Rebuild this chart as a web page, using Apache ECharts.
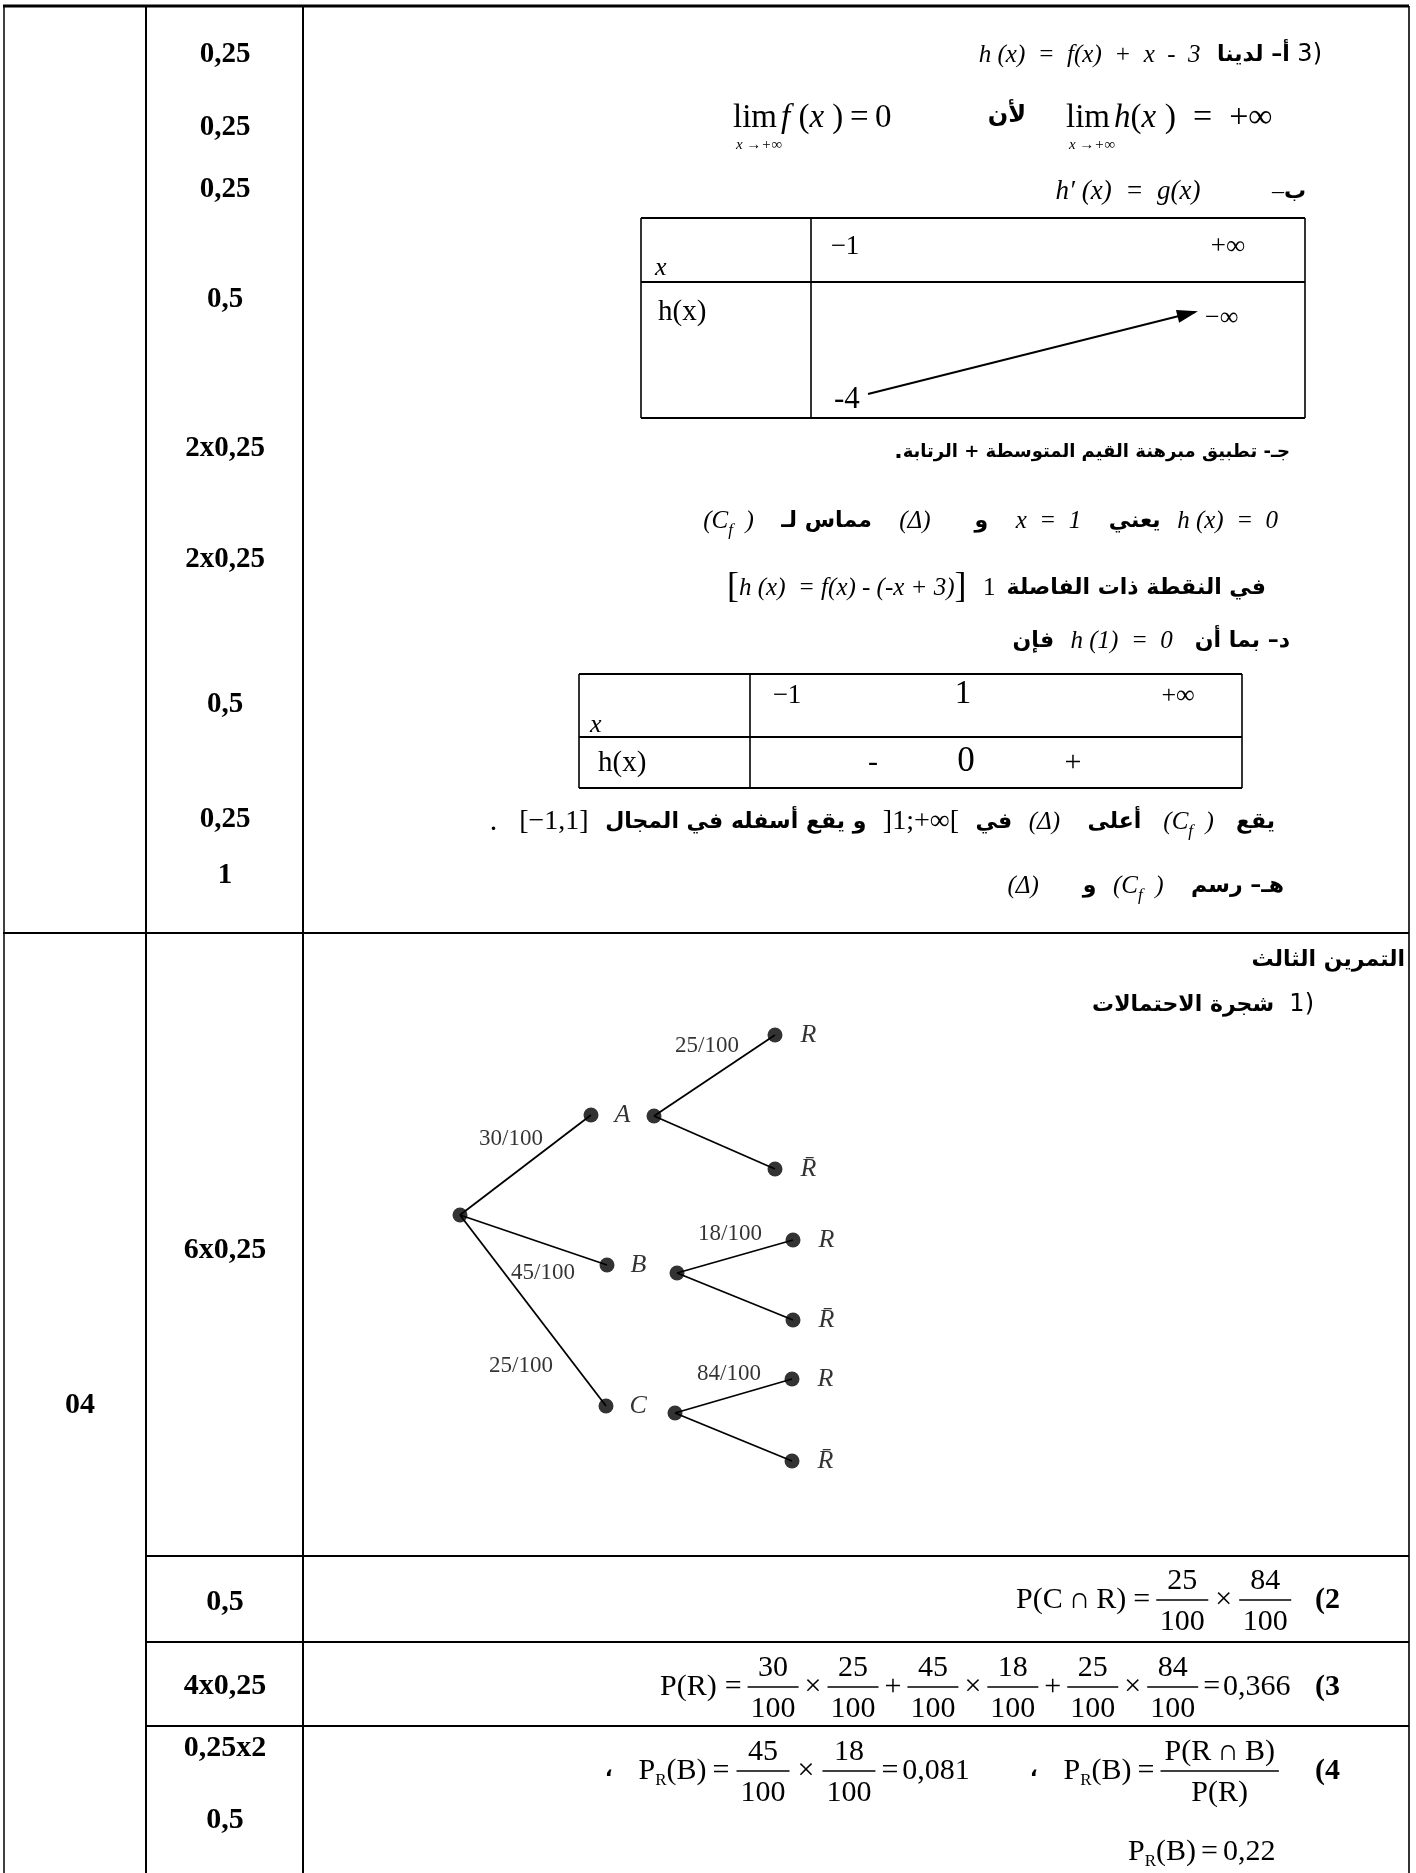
<!DOCTYPE html>
<html><head><meta charset="utf-8">
<script src="https://cdn.jsdelivr.net/npm/echarts@6/dist/echarts.min.js"></script>
<style>html,body{margin:0;padding:0;background:#fff}#c{width:1416px;height:1873px}</style>
</head><body><div id="c"></div>
<script>
// ---------- DATA ----------
const topScores = ['0,25','0,25','0,25','0,5','2x0,25','2x0,25','0,5','0,25','1'];
const bottomScores = ['6x0,25','0,5','4x0,25','0,25x2','0,5'];
const exerciseMark = '04';
const table1Header = ['−1','+∞'];
const table1Values = ['-4','−∞'];
const table2Header = ['−1','1','+∞'];
const table2Signs = ['-','0','+'];
const level1Names = ['A','B','C'];
const level1Prob = [30,45,25];      // out of 100
const rGivenLevel1 = [25,18,84];    // out of 100
const outcomeNames = ['R','R\u0304'];
const pR = '0,366';
const pRandB = '0,081';
const pBgivenR = '0,22';
// tree node places on the hidden tree axes (x: depth, y: height)
const treeRoot = [60,215];
const treeLevel1 = [[191,115],[207,265],[206,406]];
const treeBranch = [[254,116],[277,273],[275,413]];
const treeLeaves = [[[375,35],[375,169]],[[393,240],[393,320]],[[392,379],[392,461]]];
const treeRootLabel = [[111,139],[143,273],[121,366]];
const treeBranchLabel = [[307,46],[330,234],[329,374]];

// ---------- helpers ----------
const SERIF = '"Liberation Serif","Times New Roman",serif';
const AR = '"DejaVu Sans",sans-serif';
const g = [];
const mctx = document.createElement('canvas').getContext('2d');
const K = {
  ar: {fontFamily: AR, fontWeight: 'bold', fontSize: 22},
  arn: {fontFamily: AR, fontWeight: 'normal', fontSize: 23},
  m: {fontFamily: SERIF, fontSize: 25},
  mi: {fontFamily: SERIF, fontStyle: 'italic', fontSize: 25},
  b: {fontFamily: SERIF, fontWeight: 'bold', fontSize: 29}
};
function sty(k, f) { const s = Object.assign({fontStyle:'normal', fontWeight:'normal'}, K[k]); if (f && f.s) s.fontSize = f.s; return s; }
function fontOf(s) { return s.fontStyle + ' ' + s.fontWeight + ' ' + s.fontSize + 'px ' + s.fontFamily; }
function wid(t, s) { mctx.font = fontOf(s); return mctx.measureText(t).width; }
function txt(x, y, t, s, align) {
  g.push({type:'text', x:x, y:y, silent:true, z:10, style:{text:t, fill:'#000',
    fontFamily:s.fontFamily, fontSize:s.fontSize, fontWeight:s.fontWeight, fontStyle:s.fontStyle,
    align:align||'left', verticalAlign:'middle', textAlign:align||'left', textVerticalAlign:'middle'}});
}
function ln(x1, y1, x2, y2, w) {
  g.push({type:'line', silent:true, z:5, shape:{x1:x1,y1:y1,x2:x2,y2:y2}, style:{stroke:'#000', lineWidth:w||1.8}});
}
function seq(x0, y, frags, draw) {
  let x = x0;
  for (const f of frags) {
    x += f.ml || 0;
    if (f.num !== undefined) {
      const s = sty(f.k || 'm', f);
      const w = Math.max(wid(f.num, s), wid(f.den, s)) + (f.pad === undefined ? 6 : f.pad);
      if (draw) {
        txt(x + w/2, y - s.fontSize*0.62, f.num, s, 'center');
        txt(x + w/2, y + s.fontSize*0.74, f.den, s, 'center');
        ln(x + 1, y, x + w - 1, y, 1.3);
      }
      x += w + (f.mr || 0);
      continue;
    }
    const s = sty(f.k, f);
    const w = wid(f.t, s);
    if (draw) txt(x, y + (f.dy || 0), f.t, s, 'left');
    x += w + (f.mr || 0);
  }
  return x;
}
function seqR(xr, y, frags) { const w = seq(0, y, frags, false); seq(xr - w, y, frags, true); }
function seqL(xl, y, frags) { seq(xl, y, frags, true); }
const sp = n => ({k:'m', t:'\u00a0'.repeat(n), s:22});
const Cf = () => [{k:'mi', t:'(C'}, {k:'mi', t:'f', s:17, dy:10}, {k:'mi', t:'\u00a0\u00a0)'}];

// ---------- frame ----------
ln(3, 6, 1409, 6, 3);
ln(4, 6, 4, 1873, 1.5);
ln(146, 6, 146, 1873, 2);
ln(303, 6, 303, 1873, 2);
ln(1409, 6, 1409, 1873, 1.6);
ln(3, 933, 1409, 933, 2.2);
[1556, 1642, 1726].forEach(y => ln(146, y, 1409, y, 2));

// ---------- scores ----------
const topScoreY = [55, 128, 190, 300, 449, 560, 705, 820, 876];
topScores.forEach((t, i) => txt(225, topScoreY[i], t, sty('b', {s:29}), 'center'));
const bottomScoreY = [1250, 1602, 1686, 1748, 1820];
bottomScores.forEach((t, i) => txt(225, bottomScoreY[i], t, sty('b', {s:30}), 'center'));
txt(80, 1405, exerciseMark, sty('b', {s:30}), 'center');

// ---------- top section text ----------
seqR(1322, 55, [{k:'mi', t:'h (x)  =  f(x)  +  x  -  3'}, sp(3), {k:'ar', t:'أ– لدينا'}, {k:'arn', t:' 3)', s:24}]);
// limits
function limAt(x, y, parts) {
  const s = sty('m', {s:33});
  seqL(x, y, parts);
  txt(x + wid('lim', s)/2 + 4, y + 27, 'x →+∞', sty('mi', {s:15}), 'center');
}
limAt(733, 118, [{k:'m', t:'lim', s:33, mr:4}, {k:'mi', t:'f', s:33}, {k:'m', t:'\u00a0(', s:33}, {k:'mi', t:'x', s:33}, {k:'m', t:'\u00a0)\u2009=\u20090', s:33}]);
seqR(1026, 116, [{k:'ar', t:'لأن', s:24}]);
limAt(1066, 118, [{k:'m', t:'lim', s:33, mr:4}, {k:'mi', t:'h', s:33}, {k:'m', t:'(', s:33}, {k:'mi', t:'x', s:33}, {k:'m', t:'\u00a0)\u2002=\u2002+∞', s:34}]);
seqR(1306, 192, [{k:'mi', t:'h′ (x)  =  g(x)', s:27}, sp(13), {k:'m', t:'–', s:24}, {k:'ar', t:'ب'}]);

// variation table 1
ln(641, 218, 1305, 218, 2); ln(641, 282, 1305, 282, 2.2); ln(641, 418, 1305, 418, 2.2);
ln(641, 218, 641, 418, 1.6); ln(811, 218, 811, 418, 1.6); ln(1305, 218, 1305, 418, 1.6);
txt(655, 268, 'x', sty('mi', {s:26}), 'left');
txt(845, 247, table1Header[0], sty('m', {s:27}), 'center');
txt(1228, 247, table1Header[1], sty('m', {s:27}), 'center');
txt(658, 312, 'h(x)', sty('m', {s:29}), 'left');
txt(834, 400, table1Values[0], sty('m', {s:31}), 'left');
txt(1205, 318, table1Values[1], sty('m', {s:26}), 'left');
(function(){ const x1=868, y1=394, x2=1195, y2=312; ln(x1, y1, x2, y2, 2);
  const a = Math.atan2(y2-y1, x2-x1), L=18, Wd=6.5;
  const bx = x2 - L*Math.cos(a), by = y2 - L*Math.sin(a);
  g.push({type:'polygon', silent:true, z:6, shape:{points:[[x2+3*Math.cos(a), y2+3*Math.sin(a)], [bx - Wd*Math.sin(a), by + Wd*Math.cos(a)], [bx + Wd*Math.sin(a), by - Wd*Math.cos(a)]]}, style:{fill:'#000'}});
})();

seqR(1290, 452, [{k:'ar', t:'.', s:22}, {k:'ar', t:'جـ- تطبيق مبرهنة القيم المتوسطة + الرتابة', s:18}]);
seqR(1278, 521, [].concat(Cf(), [sp(5), {k:'ar', t:'مماس لـ'}, sp(5), {k:'mi', t:'(Δ)'}, sp(8), {k:'ar', t:'و'}, sp(5), {k:'mi', t:'x  =  1'}, sp(5), {k:'ar', t:'يعني'}, sp(3), {k:'mi', t:'h (x)  =  0'}]));
seqR(1266, 588, [{k:'m', t:'[', s:36}, {k:'mi', t:'h (x)  = f(x) - (-x + 3)', s:25}, {k:'m', t:']', s:36}, sp(3), {k:'m', t:'1', s:25}, sp(2), {k:'ar', t:'في النقطة ذات الفاصلة'}]);
seqR(1290, 641, [{k:'ar', t:'فإن'}, sp(3), {k:'mi', t:'h (1)  =  0'}, sp(4), {k:'ar', t:'د– بما أن'}]);

// variation table 2
ln(579, 674, 1242, 674, 2); ln(579, 737, 1242, 737, 2.2); ln(579, 788, 1242, 788, 2.2);
ln(579, 674, 579, 788, 1.6); ln(750, 674, 750, 788, 1.6); ln(1242, 674, 1242, 788, 1.6);
txt(590, 725, 'x', sty('mi', {s:26}), 'left');
txt(787, 696, table2Header[0], sty('m', {s:27}), 'center');
txt(963, 694, table2Header[1], sty('m', {s:33}), 'center');
txt(1178, 696, table2Header[2], sty('m', {s:26}), 'center');
txt(598, 763, 'h(x)', sty('m', {s:29}), 'left');
txt(873, 763, table2Signs[0], sty('m', {s:30}), 'center');
txt(966, 762, table2Signs[1], sty('m', {s:35}), 'center');
txt(1073, 763, table2Signs[2], sty('m', {s:30}), 'center');

seqR(1275, 822, [{k:'m', t:'.', s:30}, sp(4), {k:'m', t:'[−1,1]', s:28}, sp(3), {k:'ar', t:'و يقع أسفله في المجال'}, sp(3), {k:'m', t:']1;+∞[', s:28}, sp(3), {k:'ar', t:'في'}, sp(3), {k:'mi', t:'(Δ)'}, sp(5), {k:'ar', t:'أعلى'}, sp(4)].concat(Cf(), [sp(4), {k:'ar', t:'يقع'}]));
seqR(1284, 886, [{k:'mi', t:'(Δ)'}, sp(8), {k:'ar', t:'و'}, sp(3)].concat(Cf(), [sp(5), {k:'ar', t:'هـ– رسم'}]));

// ---------- exercise 3 ----------
seqR(1405, 960, [{k:'ar', t:'التمرين الثالث', s:22}]);
seqR(1314, 1005, [{k:'ar', t:'شجرة الاحتمالات', s:22}, {k:'arn', t:'  1)', s:24}]);

// formulas
const F = 30;
const fr = (n, d, o) => Object.assign({num:String(n), den:String(d), s:F, pad:8}, o||{});
const op = (t, o) => Object.assign({k:'m', t:t, s:F, ml:5, mr:5}, o||{});
const PR_B = [{k:'m', t:'P', s:F}, {k:'m', t:'R', s:17, dy:10}, {k:'m', t:'(B)', s:F}];
seqL(1016, 1600, [{k:'m', t:'P(C\u2009∩\u2009R)', s:F, mr:3}, op('=', {ml:4}), fr(level1Prob[2],100, {pad:9}), op('×', {ml:6, mr:6}), fr(rGivenLevel1[2],100, {pad:9})]);
txt(1340, 1600, '(2', sty('b', {s:30}), 'right');
seqL(660, 1687, [{k:'m', t:'P(R)', s:F, mr:4}, op('=', {ml:4}),
  fr(level1Prob[0],100), op('×'), fr(rGivenLevel1[0],100), op('+'),
  fr(level1Prob[1],100), op('×'), fr(rGivenLevel1[1],100), op('+'),
  fr(level1Prob[2],100), op('×'), fr(rGivenLevel1[2],100), op('=', {ml:4, mr:3}), {k:'m', t:pR, s:F}]);
txt(1340, 1687, '(3', sty('b', {s:30}), 'right');
seqL(605, 1771, [{k:'ar', t:'،', s:20, mr:26}].concat(PR_B, [op('=', {ml:6, mr:6}), fr(level1Prob[1],100, {pad:10}), op('×', {ml:7, mr:7}), fr(rGivenLevel1[1],100, {pad:10}), op('=', {mr:4}), {k:'m', t:pRandB, s:F}]));
seqL(1030, 1771, [{k:'ar', t:'،', s:20, mr:26}].concat(PR_B, [op('=', {ml:6}), fr('P(R\u2009∩\u2009B)','P(R)', {pad:10})]));
txt(1340, 1771, '(4', sty('b', {s:30}), 'right');
seqL(1128, 1852, PR_B.concat([op('='), {k:'m', t:pBgivenR, s:F}]));

// ---------- tree (series on hidden axes) ----------
const nodes = [{name:'', value:treeRoot}];
const edges = [];
const edgeLabels = [];
level1Names.forEach((nm, i) => {
  nodes.push({name:nm, value:treeLevel1[i], label:{show:true, distance:16}});
  nodes.push({name:'', value:treeBranch[i]});
  edges.push({coords:[treeRoot, treeLevel1[i]]});
  edgeLabels.push({name:level1Prob[i] + '/100', value:treeRootLabel[i]});
  edgeLabels.push({name:rGivenLevel1[i] + '/100', value:treeBranchLabel[i]});
  outcomeNames.forEach((on, j) => {
    nodes.push({name:on, value:treeLeaves[i][j], label:{show:true, distance:18}});
    edges.push({coords:[treeBranch[i], treeLeaves[i][j]]});
  });
});

const chart = echarts.init(document.getElementById('c'), null, {renderer:'canvas'});
chart.setOption({
  animation:false,
  backgroundColor:'#ffffff',
  grid:{left:400, top:1000, width:500, height:500, show:false},
  xAxis:{type:'value', min:0, max:500, show:false},
  yAxis:{type:'value', min:0, max:500, inverse:true, show:false},
  series:[
    {type:'lines', coordinateSystem:'cartesian2d', data:edges, silent:true, z:2,
     lineStyle:{color:'#000', width:1.8, opacity:1}},
    {type:'scatter', data:nodes, symbolSize:15, silent:true, z:3, itemStyle:{color:'#000'},
     label:{show:false, position:'right', formatter:'{b}', color:'#000', fontFamily:SERIF, fontStyle:'italic', fontSize:26}},
    {type:'scatter', data:edgeLabels, symbolSize:1, silent:true, z:3, itemStyle:{color:'rgba(0,0,0,0)'},
     label:{show:true, position:'inside', formatter:'{b}', color:'#000', fontFamily:SERIF, fontSize:23}}
  ],
  graphic:g
});
</script></body></html>
